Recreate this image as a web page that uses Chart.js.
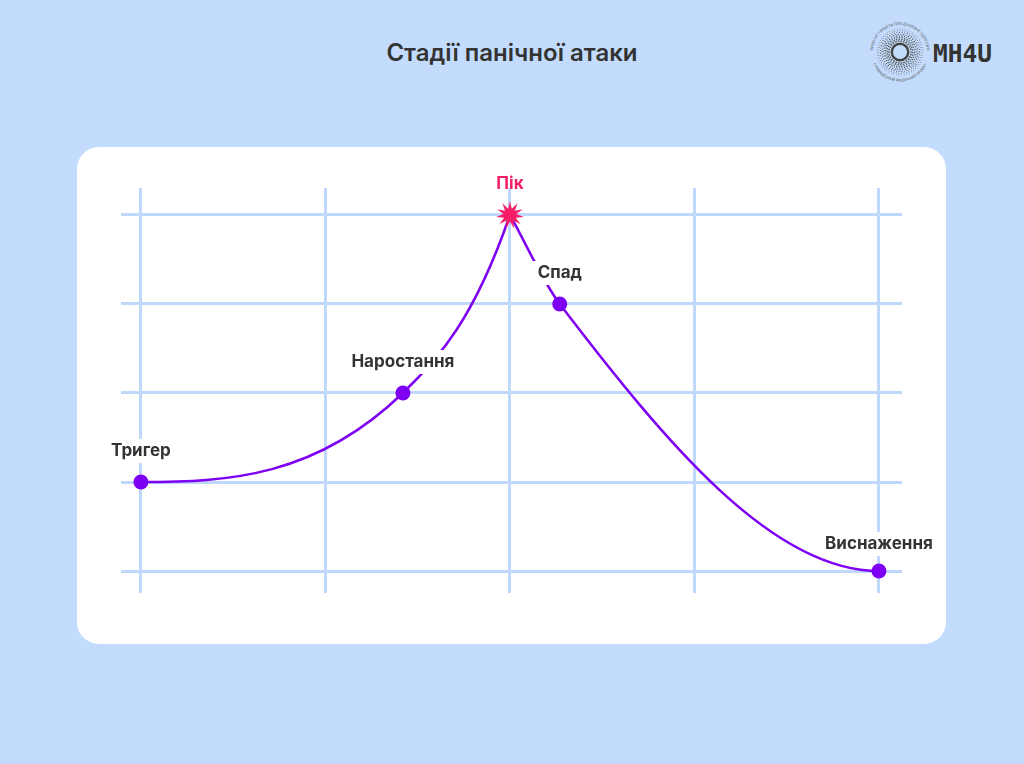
<!DOCTYPE html>
<html lang="uk">
<head>
<meta charset="utf-8">
<title>Стадії панічної атаки</title>
<script src="https://cdn.jsdelivr.net/npm/chart.js@4.4.1/dist/chart.umd.min.js"></script>
<style>
  html, body { margin: 0; padding: 0; }
  body {
    width: 1024px; height: 764px; position: relative; overflow: hidden;
    background: #c3dcfd;
    font-family: Inter, "Noto Sans", sans-serif;
  }
  #title {
    position: absolute; left: 0; width: 1024px; top: 38px; line-height: 29px;
    text-align: center; font-size: 24px; font-weight: 600; color: #333;
  }
  #panel {
    position: absolute; left: 77px; top: 147px; width: 869px; height: 497px;
    background: #fff; border-radius: 22px;
  }
  #logo { position: absolute; left: 868px; top: 20px; }
  #chart-wrap { position: absolute; left: 0; top: 0; width: 1024px; height: 764px; }
</style>
</head>
<body>
<div id="title">Стадії панічної атаки</div>
<div id="panel"></div>
<svg id="logo" width="140" height="66" viewBox="0 0 140 66"></svg>
<div id="chart-wrap"><canvas id="stages-canvas" width="1024" height="764"></canvas></div>

<script>
// Дані: стадії та їх положення на осях (x — час, y — інтенсивність)
const stages = ['Тригер', 'Наростання', 'Пік', 'Спад', 'Виснаження'];
const stageX = [0, 1.42, 2, 2.27, 4];
const stageY = [1, 2, 4, 3, 0];
const gridTicks = [0, 1, 2, 3, 4];
const peakIndex = 2;

const purple = '#7d00f2';
const pink = '#f41f68';
const gridColor = '#bfd8fc';

// Логотип (декоративний)
(function drawLogo() {
    const svg = document.getElementById('logo');
    const cx = 32, cy = 32;
    let html = '';
    for (let r = 11; r <= 23; r += 1.7) {
        const n = Math.round(r * 2.4);
        for (let i = 0; i < n; i++) {
            const a = i / n * Math.PI * 2 + r * 0.35;
            const s = 1.2 - (r - 11) / 20;
            html += `<circle cx="${(cx + r * Math.cos(a)).toFixed(2)}" cy="${(cy + r * Math.sin(a)).toFixed(2)}" r="${(s * 0.7).toFixed(2)}" fill="#555"/>`;
        }
    }
    html += `<circle cx="${cx}" cy="${cy}" r="8.2" fill="none" stroke="#444" stroke-width="2.4"/>`;
    html += `<path id="arcTop" d="M ${cx - 27} ${cy} A 27 27 0 0 1 ${cx + 27} ${cy}" fill="none"/>`;
    html += `<path id="arcBot" d="M ${cx - 29.5} ${cy} A 29.5 29.5 0 0 0 ${cx + 29.5} ${cy}" fill="none"/>`;
    html += `<text font-size="3.6" fill="#555" font-family="Inter"><textPath href="#arcTop" startOffset="50%" text-anchor="middle">ПРОСТІР ТУРБОТИ ПРО ДУШЕВНЕ ЗДОРОВ'Я</textPath></text>`;
    html += `<text font-size="3.6" fill="#555" font-family="Inter"><textPath href="#arcBot" startOffset="50%" text-anchor="middle">ГРОМАДСЬКИЙ МЕДИЧНИЙ ПРОЄКТ</textPath></text>`;
    html += `<text x="65" y="42" font-size="25" font-weight="700" fill="#333" font-family="'DejaVu Sans Mono', monospace" textLength="59" lengthAdjust="spacingAndGlyphs">MH4U</text>`;
    svg.innerHTML = html;
})();

// Зірка для точки піку
function makeStar(outer, inner, spikes, color) {
    const c = document.createElement('canvas');
    const size = outer * 2 + 2;
    c.width = size; c.height = size;
    const g = c.getContext('2d');
    g.translate(size / 2, size / 2);
    g.beginPath();
    for (let i = 0; i < spikes * 2; i++) {
        const r = i % 2 === 0 ? outer : inner;
        const a = -Math.PI / 2 + i * Math.PI / spikes;
        g.lineTo(r * Math.cos(a), r * Math.sin(a));
    }
    g.closePath();
    g.fillStyle = color;
    g.fill();
    return c;
}
const starImg = makeStar(14, 6.5, 11, pink);

const points = stages.map((s, i) => ({ x: stageX[i], y: stageY[i] }));
const rising = points.slice(0, peakIndex + 1);
const falling = points.slice(peakIndex);

// Плагін: форма кривої на кінцях (пласкі кінці, крутий підйом до піку)
const curveEnds = {
    id: 'curveEnds',
    beforeDatasetDraw(chart, args) {
        const line = args.meta.dataset;
        if (!line || !line.points) return;
        line.updateControlPoints(chart.chartArea, 'x');
        const pts = line.points;
        const first = pts[0], last = pts[pts.length - 1];
        const ds = chart.data.datasets[args.index];
        if (ds.flatStart) first.cp2y = first.y;
        if (ds.flatEnd) last.cp1y = last.y;
        if (ds.steepEnd) last.cp1y = last.y + (last.cp1y - last.y) * ds.steepEnd;
    }
};

// Плагін: підписи стадій з білою підкладкою
const stageLabels = {
    id: 'stageLabels',
    afterDraw(chart) {
        const ctx = chart.ctx;
        const xs = chart.scales.x, ys = chart.scales.y;
        ctx.save();
        ctx.font = '700 17px Inter, "Noto Sans", sans-serif';
        ctx.textAlign = 'center';
        ctx.textBaseline = 'middle';
        stages.forEach((name, i) => {
            const px = xs.getPixelForValue(stageX[i]);
            const py = ys.getPixelForValue(stageY[i]) - (i === stages.length - 1 ? 27 : 31);
            const w = ctx.measureText(name).width;
            if (i !== peakIndex) {
                ctx.fillStyle = '#fff';
                ctx.fillRect(px - w / 2 - 6, py - 12, w + 12, 24);
            }
            ctx.fillStyle = i === peakIndex ? pink : '#333';
            ctx.fillText(name, px, py);
        });
        const sx = xs.getPixelForValue(stageX[peakIndex]);
        const sy = ys.getPixelForValue(stageY[peakIndex]);
        ctx.drawImage(starImg, sx - starImg.width / 2, sy - starImg.height / 2);
        ctx.restore();
    }
};

const lineStyle = {
    borderColor: purple,
    borderWidth: 2.5,
    cubicInterpolationMode: 'monotone',
    pointHoverRadius: 7.5,
    pointBackgroundColor: purple,
    pointBorderWidth: 0,
    showLine: true,
    fill: false
};

const config = {
    type: 'scatter',
    data: {
        datasets: [
            Object.assign({ label: 'Наростання', data: rising, flatStart: true, steepEnd: 1.75,
                pointRadius: [7.5, 7.5, 0] }, lineStyle),
            Object.assign({ label: 'Спад', data: falling, flatEnd: true,
                pointRadius: [0, 7.5, 7.5] }, lineStyle)
        ]
    },
    options: {
        responsive: false,
        animation: false,
        events: [],
        layout: { padding: { left: 121, right: 122, top: 188, bottom: 171 } },
        plugins: { legend: { display: false }, tooltip: { enabled: false } },
        scales: {
            x: {
                type: 'linear', min: -0.108, max: 4.125,
                afterBuildTicks: (s) => { s.ticks = gridTicks.map(v => ({ value: v })); },
                grid: { color: gridColor, lineWidth: 3, drawTicks: false },
                border: { display: false },
                ticks: { display: false }
            },
            y: {
                type: 'linear', min: -0.247, max: 4.303,
                afterBuildTicks: (s) => { s.ticks = gridTicks.map(v => ({ value: v })); },
                grid: { color: gridColor, lineWidth: 3, drawTicks: false },
                border: { display: false },
                ticks: { display: false }
            }
        }
    },
    plugins: [curveEnds, stageLabels]
};

window.onload = function() {
    const ctx = document.getElementById('stages-canvas').getContext('2d');
    new Chart(ctx, config);
};
</script>
</body>
</html>
